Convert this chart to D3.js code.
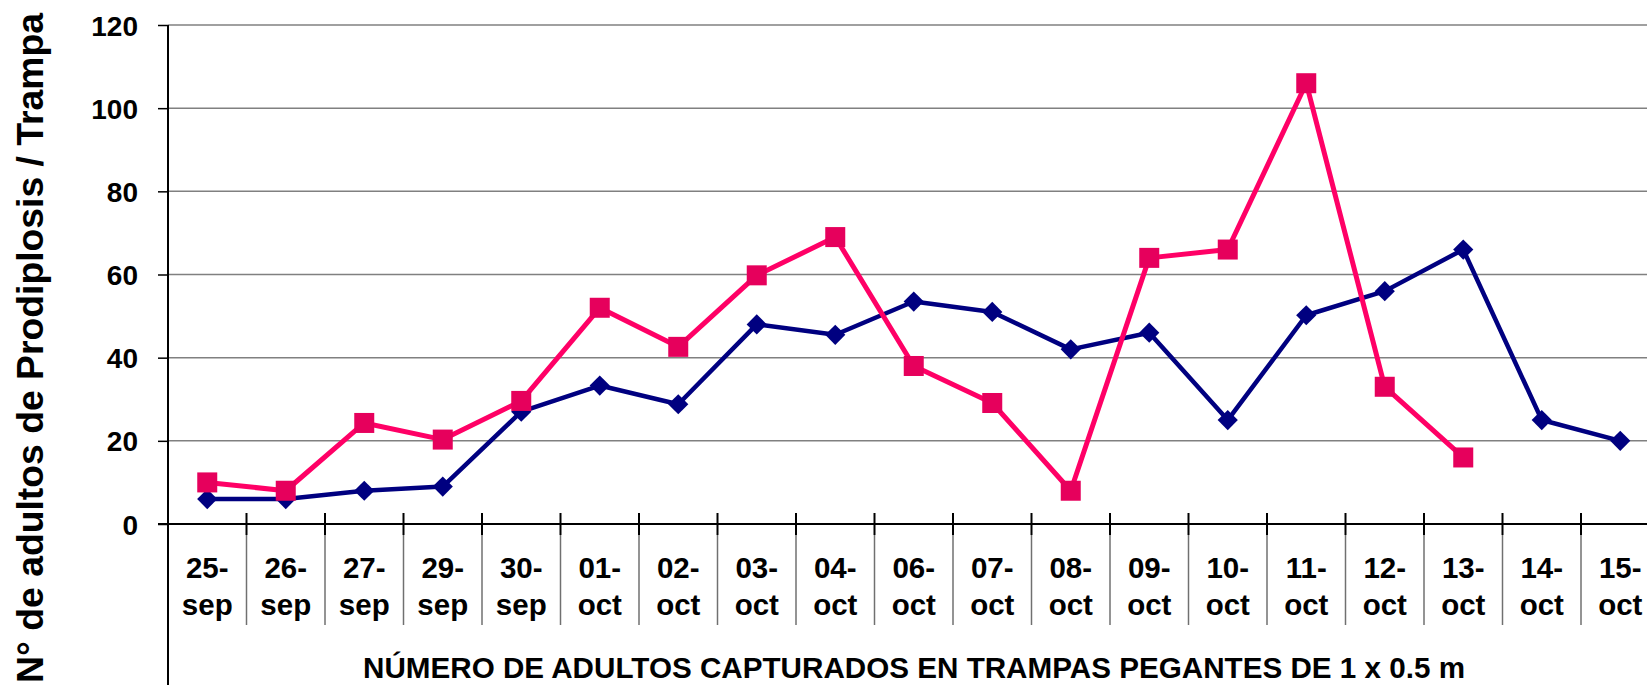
<!DOCTYPE html>
<html lang="es">
<head>
    <meta charset="UTF-8">
    <title>Adultos de Prodiplosis por trampa</title>
    <style>
        body { margin: 0; background: #fff; }
        svg { display: block; }
        text { font-family: "Liberation Sans", Arial, sans-serif; font-weight: bold; fill: #000; }
        .grid line { stroke: #808080; stroke-width: 1.5px; }
        .tick-label { font-size: 28px; }
        .cat-label { font-size: 29.5px; }
    </style>
</head>
<body>
    <svg width="1647" height="685"></svg>
    <script src="https://d3js.org/d3.v7.min.js"></script>
    <script>
        // categories (day - month)
        const days = ["25", "26", "27", "29", "30", "01", "02", "03", "04", "06",
                      "07", "08", "09", "10", "11", "12", "13", "14", "15"];
        const months = ["sep", "sep", "sep", "sep", "sep", "oct", "oct", "oct", "oct", "oct",
                        "oct", "oct", "oct", "oct", "oct", "oct", "oct", "oct", "oct"];
        const seriesBlue = [6, 6, 8, 9, 27, 33.3, 28.8, 48, 45.5, 53.5,
                            51, 42, 46, 25, 50.2, 56, 66, 25, 20];
        const seriesPink = [10, 8, 24.3, 20.3, 29.6, 52, 42.6, 59.8, 69, 38,
                            29.1, 8, 64, 66, 106, 33, 16, null, null];
        const yTicks = [0, 20, 40, 60, 80, 100, 120];

        const yTitle = "N° de adultos de Prodiplosis / Trampa";
        const xTitle = "NÚMERO DE ADULTOS CAPTURADOS EN TRAMPAS PEGANTES DE 1 x 0.5 m";

        const svg = d3.select("svg");
        const plotLeft = 168, plotTop = 25, plotBottom = 524;
        const step = 78.5;

        const x = d3.scaleBand()
            .domain(d3.range(days.length))
            .range([plotLeft, plotLeft + step * days.length])
            .paddingInner(0).paddingOuter(0);
        const y = d3.scaleLinear().domain([0, 120]).range([plotBottom, plotTop]);
        const cx = i => x(i) + x.bandwidth() / 2;

        // gridlines
        svg.append("g").attr("class", "grid")
            .selectAll("line")
            .data(yTicks.filter(d => d > 0))
            .join("line")
            .attr("x1", plotLeft).attr("x2", 1647)
            .attr("y1", d => y(d)).attr("y2", d => y(d));

        // y axis
        const yAxis = d3.axisLeft(y).tickValues(yTicks).tickSize(10).tickPadding(20).tickFormat(d3.format("d"));
        const gy = svg.append("g").attr("transform", `translate(${plotLeft},0)`).call(yAxis);
        gy.attr("font-family", null).attr("font-size", null);
        gy.select(".domain").remove();
        gy.selectAll(".tick line").attr("stroke", "#000").attr("stroke-width", 1.5);
        gy.selectAll(".tick text").attr("class", "tick-label").attr("dy", "0.36em");

        // left spine running down through category area
        svg.append("line")
            .attr("x1", plotLeft).attr("x2", plotLeft).attr("y1", plotTop).attr("y2", 685)
            .attr("stroke", "#000").attr("stroke-width", 2);

        // x axis line
        svg.append("line")
            .attr("x1", plotLeft - 10).attr("x2", 1647).attr("y1", plotBottom).attr("y2", plotBottom)
            .attr("stroke", "#000").attr("stroke-width", 2);

        // category ticks and dividers
        const bounds = d3.range(1, days.length + 1).map(i => x(i - 1) + x.bandwidth());
        svg.append("g").selectAll("line")
            .data(bounds).join("line")
            .attr("x1", d => d).attr("x2", d => d)
            .attr("y1", plotBottom - 11).attr("y2", plotBottom + 11)
            .attr("stroke", "#000").attr("stroke-width", 2);
        svg.append("g").selectAll("line")
            .data(bounds).join("line")
            .attr("x1", d => d).attr("x2", d => d)
            .attr("y1", plotBottom + 11).attr("y2", 625)
            .attr("stroke", "#707070").attr("stroke-width", 1.5);

        // category labels
        const lab = svg.append("g").selectAll("text")
            .data(days).join("text")
            .attr("class", "cat-label")
            .attr("text-anchor", "middle")
            .attr("x", (d, i) => cx(i));
        lab.append("tspan").attr("x", (d, i) => cx(i)).attr("y", 578).text(d => d + "-");
        lab.append("tspan").attr("x", (d, i) => cx(i)).attr("y", 615).text((d, i) => months[i]);

        // series
        const line = d3.line()
            .defined(d => d != null)
            .x((d, i) => cx(i))
            .y(d => y(d));

        svg.append("path").datum(seriesBlue)
            .attr("fill", "none").attr("stroke", "#000080").attr("stroke-width", 4.5)
            .attr("stroke-linejoin", "round").attr("d", line);
        svg.append("g").selectAll("path")
            .data(seriesBlue.map((v, i) => [i, v]).filter(d => d[1] != null))
            .join("path")
            .attr("fill", "#000080")
            .attr("d", d3.symbol(d3.symbolDiamond2, 260))
            .attr("transform", d => `translate(${cx(d[0])},${y(d[1])})`);

        svg.append("path").datum(seriesPink)
            .attr("fill", "none").attr("stroke", "#ff0066").attr("stroke-width", 5)
            .attr("stroke-linejoin", "round").attr("d", line);
        svg.append("g").selectAll("rect")
            .data(seriesPink.map((v, i) => [i, v]).filter(d => d[1] != null))
            .join("rect")
            .attr("fill", "#e6005c")
            .attr("width", 20).attr("height", 20)
            .attr("x", d => cx(d[0]) - 10).attr("y", d => y(d[1]) - 10);

        // titles
        svg.append("text")
            .attr("transform", "translate(43,348) rotate(-90)")
            .attr("text-anchor", "middle")
            .attr("font-size", 36)
            .attr("textLength", 670).attr("lengthAdjust", "spacingAndGlyphs")
            .text(yTitle);

        svg.append("text")
            .attr("x", 914).attr("y", 678)
            .attr("text-anchor", "middle")
            .attr("font-size", 29)
            .attr("textLength", 1102).attr("lengthAdjust", "spacingAndGlyphs")
            .text(xTitle);
    </script>
</body>
</html>
